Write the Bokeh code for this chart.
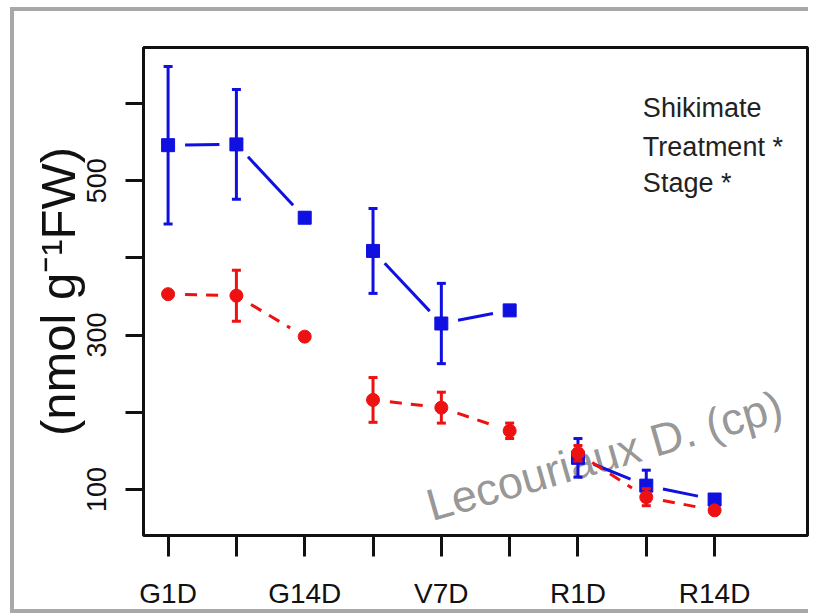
import numpy as np
from bokeh.plotting import figure
from bokeh.models import FixedTicker, Range1d
from bokeh.embed import file_html
from bokeh.resources import INLINE
from bokeh.core.properties import value

# ---- data -------------------------------------------------------------
x_pos = [1, 2, 3, 4, 5, 6, 7, 8, 9]
stage_group = [0, 0, 0, 1, 1, 1, 2, 2, 2]
x_tick_labels = {1: "G1D", 3: "G14D", 5: "V7D", 7: "R1D", 9: "R14D"}
y_ticks = [100, 200, 300, 400, 500, 600]
y_tick_labels = {100: "100", 300: "300", 500: "500"}

blue_mean = [546, 547, 452, 409, 315, 332, 141, 105, 87]
blue_err = [102, 71, 6, 55, 52, 3, 25, 20, 4]
red_mean = [353, 351, 298, 216, 206, 176, 147, 90, 73]
red_err = [3, 33, 3, 29, 20, 10, 10, 11, 3]

legend_lines = ["Shikimate", "Treatment *", "Stage *"]
watermark = "Lecouriaux D. (cp)"
y_label = "(nmol g\u207b\u00b9FW)"

# ---- layout -----------------------------------------------------------
X0, X1 = 0.64, 10.36
Y0, Y1 = 40.4, 672.5
W, H = 813, 613
MB_L, MB_T, MB_R, MB_B = 143, 47, 6, 78
FW = W - MB_L - MB_R
FH = H - MB_T - MB_B
SX = FW / (X1 - X0)
SY = FH / (Y1 - Y0)
FONT = "Liberation Sans"

p = figure(width=W, height=H, output_backend="svg", toolbar_location=None,
           x_range=Range1d(X0, X1), y_range=Range1d(Y0, Y1),
           min_border_left=MB_L, min_border_top=MB_T,
           min_border_right=MB_R, min_border_bottom=MB_B)
# grey frame of the original picture (left, top and bottom edges)
p.styles = {"box-shadow": "inset -5px 0 0 0 #ffffff, "
                          "inset 10px 7px 0 0 #ffffff, "
                          "inset 14px 11px 0 0 #a8a8a8, "
                          "inset 0 -4px 0 0 #a8a8a8"}
p.background_fill_color = "white"
p.border_fill_alpha = 0.0
p.grid.visible = False
p.outline_line_color = "#111111"
p.outline_line_width = 3

for ax in (p.xaxis[0], p.yaxis[0]):
    ax.axis_line_color = None
    ax.major_tick_in = 0
    ax.major_tick_line_width = 3
    ax.major_tick_line_color = "#111111"
    ax.minor_tick_line_color = None
    ax.major_label_text_font = FONT
    ax.major_label_text_color = "#111111"

p.xaxis.ticker = FixedTicker(ticks=x_pos)
p.xaxis.major_label_overrides = {x: x_tick_labels.get(x, "") for x in x_pos}
p.xaxis.major_label_text_font_size = "28px"
p.xaxis.major_tick_out = 21
p.xaxis.major_label_standoff = 21

p.yaxis.ticker = FixedTicker(ticks=y_ticks)
p.yaxis.major_label_overrides = {y: y_tick_labels.get(y, "") for y in y_ticks}
p.yaxis.major_label_text_font_size = "27px"
p.yaxis.major_label_orientation = "vertical"
p.yaxis.major_tick_out = 18
p.yaxis.major_label_standoff = 19
p.yaxis.axis_label = y_label
p.yaxis.axis_label_text_font = FONT
p.yaxis.axis_label_text_font_size = "49px"
p.yaxis.axis_label_text_font_style = "normal"
p.yaxis.axis_label_text_color = "#111111"
p.yaxis.axis_label_standoff = 0

# watermark under the data
p.text(x=[4.80], y=[78.0], text=[watermark], angle=0.28,
       text_font=value(FONT), text_font_size="45px", text_color="#8a8a8a",
       text_alpha=0.9, text_baseline="alphabetic", text_align="left")

# legend-like texts
p.text(x=[7.95, 7.95, 7.95], y=[594, 544, 497], text=legend_lines,
       text_font=value(FONT), text_font_size="27px", text_color="#222222",
       text_baseline="alphabetic", text_align="left")


def gapped_segments(xs, ys, groups, gap=17.0):
    x0s, y0s, x1s, y1s = [], [], [], []
    for i in range(len(xs) - 1):
        if groups[i] != groups[i + 1]:
            continue
        dx = (xs[i + 1] - xs[i]) * SX
        dy = (ys[i + 1] - ys[i]) * SY
        L = float(np.hypot(dx, dy))
        if L <= 2 * gap:
            continue
        f = gap / L
        x0s.append(xs[i] + (xs[i + 1] - xs[i]) * f)
        y0s.append(ys[i] + (ys[i + 1] - ys[i]) * f)
        x1s.append(xs[i + 1] - (xs[i + 1] - xs[i]) * f)
        y1s.append(ys[i + 1] - (ys[i + 1] - ys[i]) * f)
    return x0s, y0s, x1s, y1s


def draw_series(mean, err, color, marker, dash):
    lo = [m - e for m, e in zip(mean, err)]
    hi = [m + e for m, e in zip(mean, err)]
    sx0, sy0, sx1, sy1 = gapped_segments(x_pos, mean, stage_group)
    p.segment(x0=sx0, y0=sy0, x1=sx1, y1=sy1, line_color=color,
              line_width=3, line_dash=dash)
    p.segment(x0=x_pos, y0=lo, x1=x_pos, y1=hi, line_color=color, line_width=3)
    p.scatter(x=x_pos + x_pos, y=lo + hi, marker="dash", size=9,
              line_color=color, line_width=3)
    p.scatter(x=x_pos, y=mean, marker=marker, size=13, fill_color=color,
              line_color=color, line_width=1)


draw_series(blue_mean, blue_err, "#1010e0", "square", "solid")
draw_series(red_mean, red_err, "#ee1111", "circle", "12 9")

open("out.html", "w").write(file_html(p, INLINE))
